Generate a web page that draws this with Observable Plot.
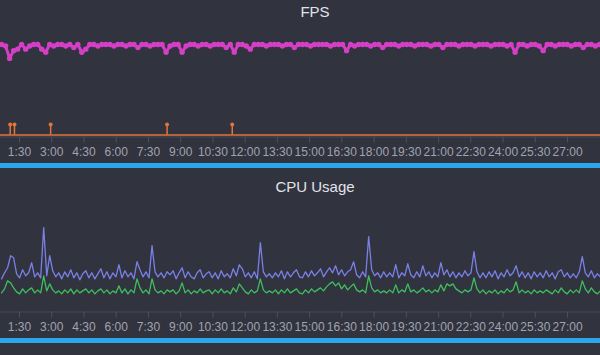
<!DOCTYPE html>
<html><head><meta charset="utf-8">
<script src="https://cdn.jsdelivr.net/npm/d3@7"></script>
<script src="https://cdn.jsdelivr.net/npm/@observablehq/plot@0.6"></script>
<style>
html,body{margin:0;padding:0;background:#31333f;}
#root{position:relative;width:600px;height:355px;background:#31333f;overflow:hidden;font-family:"Liberation Sans",Arial,sans-serif;}
.title{position:absolute;left:30px;width:570px;text-align:center;color:#e2e3ea;font-size:15px;line-height:18px;}
.bar{position:absolute;left:0;width:600px;height:5px;background:#2ba6e8;}
.layer{position:absolute;left:0;}
.layer svg{display:block;}
</style></head>
<body>
<div id="root"></div>
<script>
// ---- data ----
const timeDomain = [37, 1712]; // seconds
const tickLabels = ["1:30","3:00","4:30","6:00","7:30","9:00","10:30","12:00","13:30","15:00","16:30","18:00","19:30","21:00","22:30","24:00","25:30","27:00"];

const fpsStart = 40, fpsStep = 11.2;
const fpsValues = [
60,59,51,56,57,60,57,59,60,60,
57,55,60,59,60,60,59,60,58,60,
55,57,60,60,59,60,60,60,59,60,
60,59,60,60,58,60,60,59,60,60,
60,55,59,60,60,55,59,60,60,59,
60,60,59,60,60,60,58,60,55,60,
60,59,57,60,60,60,59,60,60,60,
59,60,60,58,60,60,60,59,60,60,
60,60,59,60,60,60,56,60,59,60,
60,60,59,60,60,58,60,60,60,59,
60,60,60,59,60,60,60,59,60,60,
58,60,60,60,59,60,60,60,59,60,
60,60,59,60,60,60,59,60,55,60,
60,59,60,60,59,56,60,60,59,60,
60,60,59,60,60,58,60,60,59,60];

const jankTimes = [64, 76, 177, 502, 684];
const jankCounts = [1, 1, 1, 1, 1];

const cpuStart = 40, cpuStep = 8.4;
const cpuTotal = [
33,39,44,56,54,38,34,42,36,39,
49,35,39,34,84,36,56,41,35,39,
33,40,35,42,34,39,32,38,41,34,
39,33,38,43,34,40,33,39,35,47,
34,41,35,39,33,50,42,35,40,34,
66,40,35,39,34,40,37,41,33,39,
44,34,40,35,33,39,42,34,38,40,
34,39,33,41,35,38,34,43,36,47,
43,35,39,34,40,33,69,40,35,38,
34,39,35,41,33,40,35,39,42,35,
34,40,35,41,36,39,43,35,40,44,
39,46,37,42,36,40,42,50,37,34,
40,35,75,42,36,39,34,40,35,39,
35,47,34,39,36,48,37,34,40,35,
46,36,40,34,39,35,49,37,42,35,
40,34,39,35,41,36,39,60,40,34,
39,34,40,35,41,33,39,35,42,36,
39,46,35,40,34,39,33,40,35,39,
34,41,35,39,33,40,42,35,39,34,
38,34,40,55,39,35,41,34,38,35];
const cpuApp = [
19,23,31,29,24,20,18,23,19,22,
24,19,22,19,36,21,28,22,19,21,
18,22,19,23,18,22,19,21,23,19,
22,18,21,23,19,22,18,21,19,26,
19,23,18,22,19,33,24,19,22,18,
33,22,19,21,18,22,20,22,18,21,
29,19,22,18,21,19,23,19,21,22,
18,22,19,23,19,21,18,24,20,28,
24,20,18,22,19,21,33,22,19,21,
19,22,18,22,19,23,19,21,23,19,
18,22,19,23,20,22,24,21,25,28,
30,26,29,23,27,22,25,28,22,20,
22,19,36,24,20,22,19,21,19,22,
19,27,19,22,20,28,20,22,19,21,
24,20,22,19,22,20,27,21,28,26,
28,23,21,19,22,20,22,34,23,19,
22,18,21,19,22,18,21,19,23,20,
22,30,19,22,19,21,18,22,19,21,
19,22,20,18,22,19,24,20,18,22,
19,22,19,31,23,19,24,20,18,21];

// ---- build tables ----
const toSec = s => { const [m, ss] = s.split(":").map(Number); return m * 60 + ss; };
const tickValues = tickLabels.map(toSec);
const fmt = v => tickLabels[tickValues.indexOf(v)];
const fps = fpsValues.map((v, i) => ({t: fpsStart + i * fpsStep, v}));
const jank = jankTimes.map((t, i) => ({t, c: jankCounts[i]}));
const cpu = cpuTotal.map((v, i) => ({t: cpuStart + i * cpuStep, total: v, app: cpuApp[i]}));

const W = 600, H = 160;
const base = {width: W, height: H, marginLeft: 0, marginRight: 0,
  style: {background: "transparent", color: "#a0a3b0", fontFamily: "'Liberation Sans', Arial, sans-serif", fontSize: "12px", overflow: "visible"}};
const axisMarks = () => [
  Plot.ruleY([0], {stroke: "#474a58", strokeWidth: 1}),
  Plot.axisX({ticks: tickValues, tickFormat: fmt, tickSize: 6, tickPadding: 4, stroke: "#4d505f", fill: "#a0a3b0", fontSize: 12, label: null})
];

const root = document.getElementById("root");
function layer(top, node) { const d = document.createElement("div"); d.className = "layer"; d.style.top = top + "px"; d.appendChild(node); root.appendChild(d); }
function div(cls, top, text) { const d = document.createElement("div"); d.className = cls; d.style.top = top + "px"; if (text) d.textContent = text; root.appendChild(d); }

// FPS panel
layer(0, Plot.plot({...base, marginTop: 44, marginBottom: 23.5,
  x: {domain: timeDomain}, y: {domain: [0, 60], axis: null},
  marks: [
    ...axisMarks(),
    Plot.line(fps, {x: "t", y: "v", stroke: "#d43fc6", strokeWidth: 3}),
    Plot.dot(fps, {x: "t", y: "v", r: 2.7, fill: "#d43fc6"})
  ]}));
layer(0, Plot.plot({...base, marginTop: 124, marginBottom: 25.5,
  x: {domain: timeDomain, axis: null}, y: {domain: [0, 1], axis: null},
  marks: [
    Plot.ruleY([0], {stroke: "#e3743a", strokeWidth: 1.5}),
    Plot.ruleX(jank, {x: "t", y1: 0, y2: "c", stroke: "#e3743a", strokeWidth: 1.5}),
    Plot.dot(jank, {x: "t", y: "c", r: 2, fill: "#e3743a"})
  ]}));
div("title", 3, "FPS");
div("bar", 163);

// CPU panel
layer(175, Plot.plot({...base, marginTop: 36, marginBottom: 23.5,
  x: {domain: timeDomain}, y: {domain: [0, 100], axis: null},
  marks: [
    ...axisMarks(),
    Plot.line(cpu, {x: "t", y: "total", stroke: "#7a80e6", strokeWidth: 1.3}),
    Plot.line(cpu, {x: "t", y: "app", stroke: "#3fbf5c", strokeWidth: 1.3})
  ]}));
div("title", 178, "CPU Usage");
div("bar", 338);
</script>
</body></html>
